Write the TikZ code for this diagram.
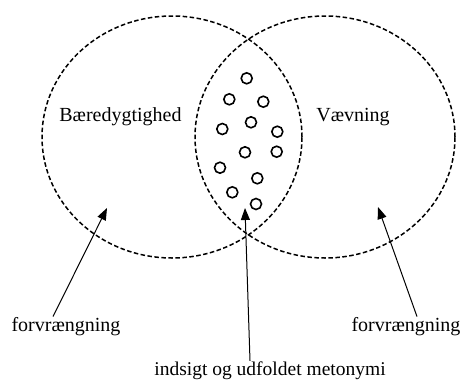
\documentclass[tikz,border=0pt]{standalone}
\usepackage{fontspec}
\setmainfont{Liberation Serif}
\usetikzlibrary{arrows.meta,shapes.geometric}
\begin{document}
\begin{tikzpicture}[x=1pt,y=-1pt,
  setcircle/.style={ellipse,draw,dash pattern=on 4.5pt off 2.5pt,line width=1.5pt,minimum width=260pt,minimum height=242pt,inner sep=0pt},
  dot/.style={circle,draw,line width=1.6pt,minimum size=11pt,inner sep=0pt},
  lbl/.style={font=\fontsize{20}{23}\selectfont,inner sep=1pt},
  midlbl/.style={font=\fontsize{19.5}{23}\selectfont,inner sep=1pt},
  arr/.style={line width=1pt,-{Triangle[length=12pt,width=9pt]}}]
\useasboundingbox (0,0) rectangle (463,380);
\node[setcircle] (L) at (172,137) {};
\node[setcircle] (R) at (325,137) {};
\node[lbl] (tL) at (120.5,117) {Bæredygtighed};
\node[lbl] (tR) at (353,117) {Vævning};
\foreach \i/\x/\y in {1/246.7/78.3,2/229.3/99.3,3/263.3/101.7,4/222.3/129,5/251/122.3,6/277.3/131.7,7/245/152.3,8/276.7/151.7,9/220/167.7,10/257.3/178.3,11/232.3/192.3,12/256/204}
  \node[dot] (d\i) at (\x,\y) {};
\node[lbl] (fL) at (66,327) {forvrængning};
\node[lbl] (fR) at (406,327) {forvrængning};
\node[midlbl] (mid) at (270,371) {indsigt og udfoldet metonymi};
\coordinate (aL) at (107,208);
\coordinate (aM) at (245,208);
\coordinate (aR) at (378,207);
\draw[arr] ([xshift=-13pt]fL.north) -- (aL);
\draw[arr] ([xshift=-20pt]mid.north) -- (aM);
\draw[arr] ([xshift=11pt]fR.north) -- (aR);
\end{tikzpicture}
\end{document}
